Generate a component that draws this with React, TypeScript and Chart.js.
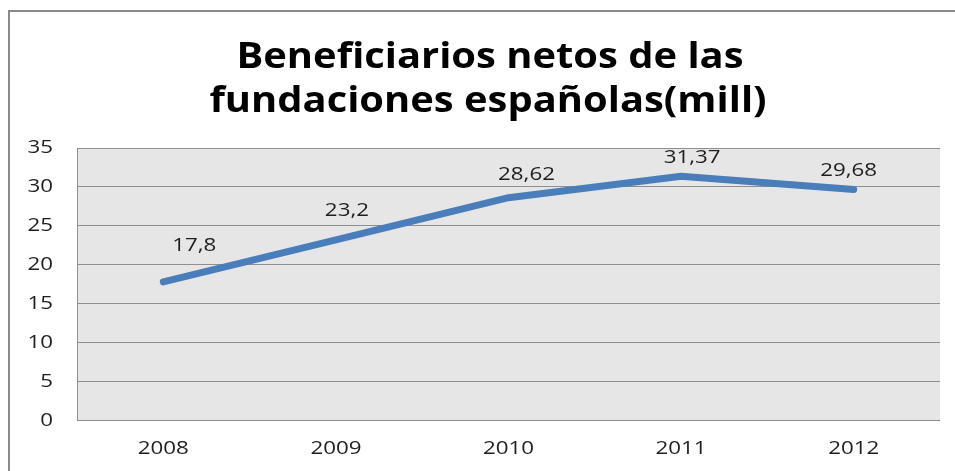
import React, { useEffect, useRef } from "react";
import { Chart, registerables } from "chart.js";
Chart.register(...registerables);

const categories = ["2008", "2009", "2010", "2011", "2012"];
const values = [17.8, 23.2, 28.62, 31.37, 29.68];
const valueLabels = ["17,8", "23,2", "28,62", "31,37", "29,68"];
const yTickLabels = ["0", "5", "10", "15", "20", "25", "30", "35"];
const titleLines = ["Beneficiarios netos de las", "fundaciones españolas(mill)"];

const FONT = "'Open Sans', 'Noto Sans', sans-serif";
const TEXT_STRETCH = 1.24;
const TITLE_STRETCH = 1.14;
// manual label nudges (Excel placement), px relative to point
const labelNudge = [
  [31, -36.5],
  [11, -29],
  [18, -23],
  [11, -18],
  [-5, -19],
];

function stretchedText(ctx: any, text: string, x: number, y: number, sx: number, align: string) {
  ctx.save();
  ctx.translate(x, y);
  ctx.scale(sx, 1);
  ctx.textAlign = align;
  ctx.fillText(text, 0, 0);
  ctx.restore();
}

const decorPlugin = {
  id: "decor",
  beforeDraw(chart: any) {
    const { ctx, chartArea } = chart;
    ctx.save();
    ctx.fillStyle = "#ffffff";
    ctx.fillRect(0, 0, chart.width, chart.height);
    ctx.strokeStyle = "#8a8a8a";
    ctx.lineWidth = 2;
    ctx.strokeRect(9, 11, chart.width + 20, chart.height + 20);
    ctx.fillStyle = "#e6e6e6";
    ctx.fillRect(chartArea.left, chartArea.top, chartArea.right - chartArea.left, chartArea.bottom - chartArea.top);
    ctx.fillStyle = "#000000";
    ctx.font = `bold 35px ${FONT}`;
    ctx.textBaseline = "alphabetic";
    stretchedText(ctx, titleLines[0], 490, 68, TITLE_STRETCH, "center");
    stretchedText(ctx, titleLines[1], 488, 112, TITLE_STRETCH, "center");
    ctx.restore();
  },
  afterDraw(chart: any) {
    const { ctx } = chart;
    const xs = chart.scales.x;
    const ys = chart.scales.y;
    ctx.save();
    ctx.fillStyle = "#1e1e1e";
    ctx.font = `18px ${FONT}`;
    ctx.textBaseline = "middle";
    yTickLabels.forEach((t) => {
      const y = ys.getPixelForValue(Number(t));
      stretchedText(ctx, t, 53, y, TEXT_STRETCH, "right");
    });
    categories.forEach((c, i) => {
      const x = xs.getPixelForValue(i);
      stretchedText(ctx, c, x, 449, TEXT_STRETCH, "center");
    });
    const meta = chart.getDatasetMeta(0);
    meta.data.forEach((pt: any, i: number) => {
      stretchedText(ctx, valueLabels[i], pt.x + labelNudge[i][0], pt.y + labelNudge[i][1], TEXT_STRETCH, "center");
    });
    ctx.restore();
  },
};

export default function App() {
  const ref = useRef<HTMLCanvasElement>(null);
  useEffect(() => {
    if (!ref.current) return;
    const chart = new Chart(ref.current, {
      type: "line",
      data: {
        labels: categories,
        datasets: [
          {
            data: values,
            borderColor: "#4a7ebb",
            borderWidth: 7,
            borderCapStyle: "round",
            borderJoinStyle: "round",
            pointRadius: 0,
            tension: 0,
            fill: false,
          },
        ],
      },
      options: {
        animation: false,
        responsive: false,
        layout: { padding: { left: 0, right: 15, top: 148, bottom: 0 } },
        plugins: { legend: { display: false }, tooltip: { enabled: false }, title: { display: false } },
        scales: {
          x: {
            offset: true,
            grid: { display: false, drawTicks: false },
            border: { display: false },
            ticks: { display: false },
            afterFit(axis: any) {
              axis.height = 50.5;
            },
          },
          y: {
            min: 0,
            max: 35,
            grid: { color: "#8e8e8e", lineWidth: 1, drawTicks: false },
            border: { display: true, color: "#8e8e8e", width: 1 },
            ticks: { stepSize: 5, display: false },
            afterFit(axis: any) {
              axis.width = 77;
            },
          },
        },
      },
      plugins: [decorPlugin],
    });
    return () => chart.destroy();
  }, []);
  return (
    <div style={{ position: "fixed", left: 0, top: 0, width: 955, height: 471 }}>
      <canvas ref={ref} width={955} height={471} style={{ display: "block" }} />
    </div>
  );
}
